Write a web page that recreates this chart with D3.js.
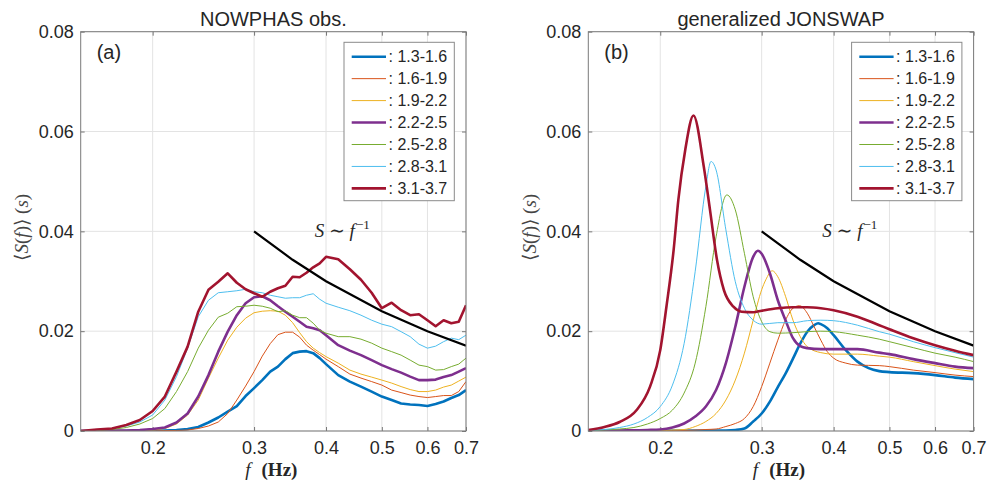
<!DOCTYPE html>
<html>
<head>
<meta charset="utf-8">
<script src="https://cdn.jsdelivr.net/npm/d3@7"></script>
<style>
  body { margin: 0; background: #fff; }
  svg text { font-family: "Liberation Sans", Arial, sans-serif; fill: #262626; }
  svg text.serif { font-family: "Liberation Serif", "DejaVu Serif", serif; }
</style>
</head>
<body>
<svg id="chart" width="990" height="487"></svg>
<script>
// legend entries (Hs bins) and axis ticks
const binLabels = ["1.3-1.6", "1.6-1.9", "1.9-2.2", "2.2-2.5", "2.5-2.8", "2.8-3.1", "3.1-3.7"];
const xTicks = [0.2, 0.3, 0.4, 0.5, 0.6, 0.7];
const xTickLabels = ["0.2", "0.3", "0.4", "0.5", "0.6", "0.7"];
const yTicks = [0, 0.02, 0.04, 0.06, 0.08];
const yTickLabels = ["0", "0.02", "0.04", "0.06", "0.08"];

// (a) NOWPHAS observations, common frequency grid
const freqObs = [0.15,0.16,0.17,0.18,0.19,0.20,0.21,0.22,0.23,0.24,0.25,0.26,0.27,0.28,0.29,0.30,0.31,0.32,0.33,0.34,0.35,0.36,0.37,0.38,0.39,0.40,0.42,0.44,0.46,0.48,0.50,0.52,0.54,0.56,0.58,0.60,0.62,0.64,0.66,0.68,0.70];
const obs1 = [0,0,0,0,0.0001,0.0001,0.0001,0.0002,0.0004,0.0008,0.0017,0.0027,0.0039,0.0050,0.0070,0.0086,0.0102,0.0119,0.0129,0.0144,0.0156,0.0159,0.0160,0.0156,0.0146,0.0134,0.0112,0.0099,0.0089,0.0079,0.0069,0.0062,0.0055,0.0053,0.0052,0.0050,0.0054,0.0059,0.0066,0.0072,0.0082];
const obs2 = [0,0,0,0,0,0,0.0001,0.0001,0.0002,0.0005,0.0010,0.0018,0.0035,0.0062,0.0090,0.0119,0.0150,0.0175,0.0193,0.0198,0.0198,0.0188,0.0172,0.0162,0.0153,0.0144,0.0129,0.0114,0.0106,0.0099,0.0092,0.0082,0.0077,0.0072,0.0069,0.0067,0.0069,0.0071,0.0071,0.0079,0.0099];
const obs3 = [0,0,0,0,0.0001,0.0002,0.0005,0.0014,0.0032,0.0062,0.0106,0.0146,0.0182,0.0208,0.0226,0.0237,0.0240,0.0241,0.0240,0.0232,0.0217,0.0197,0.0179,0.0166,0.0157,0.0149,0.0136,0.0122,0.0114,0.0108,0.0102,0.0096,0.0089,0.0083,0.0079,0.0079,0.0082,0.0088,0.0092,0.0100,0.0108];
const obs4 = [0,0,0.0001,0.0001,0.0002,0.0004,0.0007,0.0017,0.0035,0.0069,0.0112,0.0159,0.0199,0.0232,0.0256,0.0268,0.0270,0.0262,0.0250,0.0239,0.0229,0.0219,0.0209,0.0206,0.0202,0.0192,0.0172,0.0161,0.0152,0.0142,0.0132,0.0124,0.0117,0.0109,0.0102,0.0102,0.0103,0.0108,0.0112,0.0119,0.0126];
const obs5 = [0,0.0001,0.0003,0.0007,0.0014,0.0025,0.0045,0.0079,0.0119,0.0166,0.0202,0.0228,0.0236,0.0249,0.0250,0.0252,0.0250,0.0246,0.0239,0.0241,0.0232,0.0227,0.0227,0.0216,0.0202,0.0196,0.0189,0.0189,0.0184,0.0176,0.0166,0.0159,0.0152,0.0142,0.0132,0.0129,0.0122,0.0123,0.0129,0.0134,0.0146];
const obs6 = [0,0.0002,0.0005,0.0010,0.0018,0.0032,0.0062,0.0109,0.0166,0.0229,0.0262,0.0277,0.0279,0.0281,0.0284,0.0279,0.0277,0.0272,0.0269,0.0266,0.0267,0.0267,0.0272,0.0275,0.0264,0.0256,0.0248,0.0241,0.0232,0.0222,0.0214,0.0209,0.0199,0.0189,0.0174,0.0166,0.0170,0.0179,0.0186,0.0183,0.0192];
const obs7 = [0,0.0003,0.0005,0.0012,0.0022,0.0040,0.0069,0.0119,0.0169,0.0239,0.0283,0.0299,0.0316,0.0297,0.0284,0.0276,0.0269,0.0279,0.0286,0.0291,0.0309,0.0308,0.0317,0.0328,0.0336,0.0349,0.0344,0.0324,0.0303,0.0277,0.0246,0.0257,0.0242,0.0232,0.0234,0.0222,0.0210,0.0222,0.0216,0.0219,0.0252];

// (b) generalized JONSWAP fits
const jsF1 = [0.15,0.26,0.27,0.28,0.29,0.30,0.31,0.32,0.33,0.34,0.35,0.36,0.37,0.376,0.38,0.39,0.40,0.42,0.44,0.46,0.48,0.50,0.55,0.60,0.65,0.70];
const jsS1 = [0,0.0001,0.0002,0.0005,0.0019,0.0035,0.0059,0.0088,0.0115,0.0145,0.0175,0.0199,0.0212,0.0216,0.0214,0.0206,0.0192,0.0162,0.0139,0.0126,0.0120,0.0118,0.0116,0.0112,0.0107,0.0104];
const jsF2 = [0.15,0.22,0.24,0.25,0.26,0.27,0.28,0.29,0.30,0.31,0.32,0.33,0.34,0.349,0.36,0.37,0.38,0.39,0.40,0.42,0.44,0.48,0.50,0.55,0.60,0.65,0.70];
const jsS2 = [0,0.0001,0.0003,0.0004,0.0009,0.0015,0.0025,0.0049,0.0089,0.0136,0.0182,0.0222,0.0246,0.0251,0.0236,0.0209,0.0182,0.0159,0.0146,0.0136,0.0132,0.0131,0.0129,0.0122,0.0117,0.0112,0.0109];
const jsF3 = [0.15,0.20,0.21,0.22,0.23,0.24,0.25,0.26,0.27,0.28,0.29,0.30,0.305,0.313,0.32,0.33,0.34,0.35,0.36,0.38,0.40,0.44,0.48,0.50,0.55,0.60,0.65,0.70];
const jsS3 = [0,0.0001,0.0002,0.0003,0.0009,0.0019,0.0035,0.0062,0.0102,0.0156,0.0222,0.0283,0.0303,0.0321,0.0309,0.0270,0.0222,0.0189,0.0169,0.0157,0.0154,0.0154,0.0150,0.0148,0.0139,0.0131,0.0124,0.0119];
const jsF4 = [0.15,0.17,0.19,0.20,0.21,0.22,0.23,0.24,0.25,0.26,0.27,0.28,0.29,0.2955,0.30,0.31,0.32,0.33,0.34,0.35,0.36,0.38,0.40,0.44,0.48,0.50,0.55,0.60,0.65,0.70];
const jsS4 = [0,0.0001,0.0002,0.0003,0.0007,0.0015,0.0029,0.0049,0.0082,0.0136,0.0209,0.0289,0.0349,0.0361,0.0355,0.0316,0.0262,0.0222,0.0186,0.0170,0.0166,0.0164,0.0164,0.0164,0.0157,0.0154,0.0144,0.0136,0.0129,0.0126];
const jsF5 = [0.15,0.16,0.17,0.18,0.19,0.20,0.21,0.22,0.23,0.24,0.25,0.261,0.27,0.28,0.29,0.30,0.31,0.32,0.34,0.36,0.38,0.40,0.44,0.48,0.50,0.55,0.60,0.65,0.70];
const jsS5 = [0,0.0002,0.0004,0.0007,0.0014,0.0025,0.0042,0.0076,0.0136,0.0249,0.0389,0.0473,0.0443,0.0356,0.0269,0.0219,0.0199,0.0196,0.0197,0.0199,0.0200,0.0199,0.0192,0.0184,0.0179,0.0167,0.0156,0.0148,0.0139];
const jsF6 = [0.15,0.16,0.17,0.18,0.19,0.20,0.21,0.22,0.23,0.24,0.245,0.25,0.26,0.27,0.28,0.29,0.30,0.32,0.34,0.36,0.38,0.40,0.44,0.48,0.50,0.55,0.60,0.65,0.70];
const jsS6 = [0.0001,0.0003,0.0007,0.0014,0.0027,0.0049,0.0092,0.0175,0.0320,0.0490,0.0540,0.0523,0.0403,0.0299,0.0246,0.0222,0.0214,0.0217,0.0217,0.0221,0.0222,0.0221,0.0212,0.0199,0.0194,0.0179,0.0167,0.0157,0.0148];
const jsF7 = [0.15,0.16,0.17,0.182,0.192,0.200,0.205,0.211,0.215,0.221,0.2284,0.238,0.244,0.251,0.258,0.268,0.277,0.29,0.30,0.32,0.34,0.36,0.38,0.40,0.44,0.48,0.50,0.55,0.60,0.65,0.70];
const jsS7 = [0.0002,0.0008,0.0018,0.0042,0.0089,0.0162,0.0249,0.0363,0.0463,0.0563,0.0632,0.0530,0.0443,0.0342,0.0282,0.0249,0.0239,0.0238,0.0241,0.0246,0.0248,0.0248,0.0246,0.0242,0.0229,0.0212,0.0204,0.0186,0.0172,0.0161,0.0152];

// S ~ f^-1 reference line
const refF = [0.30, 0.35, 0.40, 0.50, 0.60, 0.70];
const refS = [0.0400, 0.0343, 0.0300, 0.0240, 0.0200, 0.0171];

const lineColors = ["#0072BD", "#D95319", "#EDB120", "#7E2F8E", "#77AC30", "#4DBEEE", "#A2142F"];
const lineWidths = [2.6, 1, 1, 2.6, 1, 1, 2.6];

const obsSeries = [obs1, obs2, obs3, obs4, obs5, obs6, obs7].map(vals => freqObs.map((f, i) => [f, vals[i]]));
const jsF = [jsF1, jsF2, jsF3, jsF4, jsF5, jsF6, jsF7];
const jsSeries = [jsS1, jsS2, jsS3, jsS4, jsS5, jsS6, jsS7].map((vals, k) => jsF[k].map((f, i) => [f, vals[i]]));
const refLine = refF.map((f, i) => [f, refS[i]]);

const svg = d3.select("#chart");
const TOP = 31.7, W = 385.3, H = 399.3;

function drawPanel(left, title, tag, series, curve, id) {
  const g = svg.append("g").attr("transform", `translate(${left},${TOP})`);
  const x = d3.scaleLog().domain([0.15, 0.7]).range([0, W]);
  const y = d3.scaleLinear().domain([0, 0.08]).range([H, 0]);

  g.append("rect").attr("width", W).attr("height", H).attr("fill", "#fff");

  // grid
  g.append("g").selectAll("line").data(xTicks).join("line")
    .attr("x1", d => x(d)).attr("x2", d => x(d)).attr("y1", 0).attr("y2", H)
    .attr("stroke", "#e3e3e3").attr("stroke-width", 1);
  g.append("g").selectAll("line").data(yTicks).join("line")
    .attr("x1", 0).attr("x2", W).attr("y1", d => y(d)).attr("y2", d => y(d))
    .attr("stroke", "#e3e3e3").attr("stroke-width", 1);

  // axes
  const xAxis = d3.axisBottom(x).tickValues(xTicks).tickFormat((d, i) => xTickLabels[i]).tickSizeInner(-4).tickSizeOuter(0).tickPadding(10);
  const yAxis = d3.axisLeft(y).tickValues(yTicks).tickFormat((d, i) => yTickLabels[i]).tickSizeInner(-4).tickSizeOuter(0).tickPadding(7);
  const xg = g.append("g").attr("transform", `translate(0,${H})`).call(xAxis);
  const yg = g.append("g").call(yAxis);
  g.append("g").call(d3.axisTop(x).tickValues(xTicks).tickFormat("").tickSizeInner(-4).tickSizeOuter(0));
  g.append("g").attr("transform", `translate(${W},0)`).call(d3.axisRight(y).tickValues(yTicks).tickFormat("").tickSizeInner(-4).tickSizeOuter(0));
  g.selectAll(".domain").remove();
  g.selectAll(".tick line").attr("stroke", "#777");
  [xg, yg].forEach(a => a.selectAll("text").attr("font-size", 18).attr("font-family", "Liberation Sans, Arial, sans-serif").attr("fill", "#262626"));

  // curves
  g.append("clipPath").attr("id", id).append("rect").attr("width", W).attr("height", H);
  const line = d3.line().x(d => x(d[0])).y(d => y(d[1])).curve(curve);
  const lines = g.append("g").attr("clip-path", `url(#${id})`);
  series.forEach((s, k) => {
    lines.append("path").datum(s).attr("d", line).attr("fill", "none")
      .attr("stroke", lineColors[k]).attr("stroke-width", lineWidths[k]).attr("stroke-linejoin", "round");
  });
  lines.append("path").datum(refLine).attr("d", d3.line().x(d => x(d[0])).y(d => y(d[1])))
    .attr("fill", "none").attr("stroke", "#000").attr("stroke-width", 2.2);

  // box
  g.append("rect").attr("width", W).attr("height", H).attr("fill", "none").attr("stroke", "#7a7a7a").attr("stroke-width", 1);

  // title and panel tag
  g.append("text").attr("x", W / 2).attr("y", -5.5).attr("text-anchor", "middle").attr("font-size", 20).text(title);
  g.append("text").attr("x", 16).attr("y", 27.5).attr("font-size", 20).text(tag);

  // S ~ f^-1 annotation
  const ann = g.append("text").attr("class", "serif").attr("x", 234).attr("y", 205).attr("font-size", 19);
  ann.append("tspan").attr("font-style", "italic").text("S");
  ann.append("tspan").text(" \u223C ");
  ann.append("tspan").attr("font-style", "italic").text("f");
  ann.append("tspan").attr("font-size", 13).attr("dy", -8).attr("dx", 1).text("\u22121");

  // x label
  const xl = g.append("text").attr("class", "serif").attr("x", W / 2 - 2).attr("y", H + 44.8).attr("text-anchor", "middle").attr("font-size", 19);
  xl.append("tspan").attr("font-style", "italic").text("f");
  xl.append("tspan").attr("dx", 11).attr("font-weight", "bold").text("(Hz)");

  // y label
  const yl = g.append("text").attr("class", "serif").attr("transform", `translate(-52.7,${H / 2 - 4}) rotate(-90)`)
    .attr("text-anchor", "middle").attr("font-size", 19).style("fill", "#444");
  yl.append("tspan").text("\u27E8");
  yl.append("tspan").attr("font-style", "italic").text("S");
  yl.append("tspan").text("(");
  yl.append("tspan").attr("font-style", "italic").text("f");
  yl.append("tspan").text(")\u27E9 (");
  yl.append("tspan").attr("font-style", "italic").text("s");
  yl.append("tspan").text(")");

  // legend
  const lg = g.append("g").attr("transform", "translate(263.3,10.6)");
  lg.append("rect").attr("width", 110.3).attr("height", 158.4).attr("fill", "#fff").attr("stroke", "#8a8a8a").attr("stroke-width", 1);
  binLabels.forEach((b, k) => {
    const yy = 14.4 + 21.95 * k;
    lg.append("line").attr("x1", 7.7).attr("x2", 42).attr("y1", yy).attr("y2", yy)
      .attr("stroke", lineColors[k]).attr("stroke-width", lineWidths[k]);
    lg.append("text").attr("x", 44.5).attr("y", yy).attr("dy", "0.36em").attr("font-size", 16).text(": " + b);
  });
}

drawPanel(80.7, "NOWPHAS obs.", "(a)", obsSeries, d3.curveLinear, "clipA");
drawPanel(588.3, "generalized JONSWAP", "(b)", jsSeries, d3.curveMonotoneX, "clipB");
</script>
</body>
</html>
